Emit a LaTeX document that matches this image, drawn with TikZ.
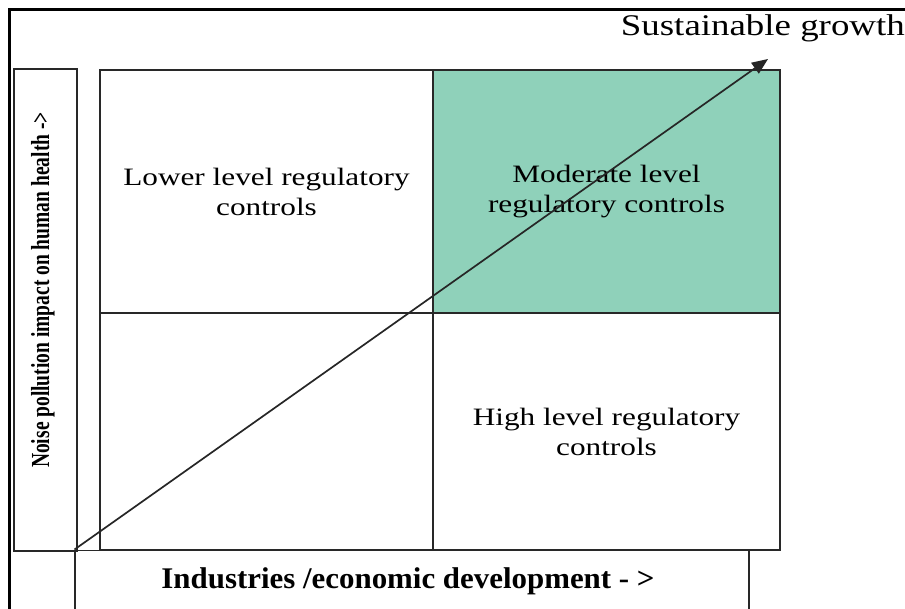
\documentclass[tikz,border=0pt]{standalone}
\usepackage{fontspec}
\setmainfont{Liberation Serif}
\newfontfamily\cellfont{Liberation Serif}[FakeStretch=1.25]
\newfontfamily\titlefont{Liberation Serif}[FakeStretch=1.23]
\newfontfamily\xaxisfont{Liberation Serif}[FakeStretch=1.03]
\newfontfamily\yaxisfont{Liberation Serif}[FakeStretch=0.75]
\usetikzlibrary{arrows.meta}
\definecolor{mint}{RGB}{143,209,186}
\definecolor{lineclr}{RGB}{40,40,40}
\tikzset{
  cell/.style={draw=lineclr, line width=1.4pt, rectangle, inner sep=0pt, align=center,
    font=\cellfont\fontsize{25}{30}\selectfont},
  axisbox/.style={draw=lineclr, line width=1.4pt, rectangle, inner sep=0pt},
  growth/.style={draw=black!85, line width=1.7pt, -{Triangle[length=16pt,width=13pt]}}
}
\begin{document}
\begin{tikzpicture}[x=1pt,y=-1pt]
\useasboundingbox (0,0) rectangle (905,609);
\fill[white] (0,0) rectangle (905,609);
% outer frame (only top and left visible)
\draw[line width=3pt] (9.5,609) -- (9.5,9.5) -- (905,9.5);
% quadrants
\node[cell, minimum width=333pt, minimum height=243pt] (tl) at (266.5,191.5) {Lower level regulatory\\controls};
\node[cell, fill=mint, minimum width=347pt, minimum height=243pt] (tr) at (606.5,191.5) {Moderate level\\regulatory controls};
\node[cell, minimum width=333pt, minimum height=237pt] (bl) at (266.5,431.5) {};
\node[cell, minimum width=347pt, minimum height=237pt] (br) at (606.5,431.5) {High level regulatory\\controls};
% axis boxes
\node[axisbox, minimum width=63pt, minimum height=482pt] (ybox) at (45.5,310) {};
\node[axisbox, minimum width=674pt, minimum height=60pt] (xbox) at (412,580.5) {};
\node[rotate=90, anchor=base, inner sep=0pt, font=\yaxisfont\bfseries\fontsize{26}{30}\selectfont] (ylab) at (49,290) {Noise pollution impact on human health ->};
\node[anchor=base, inner sep=0pt, font=\xaxisfont\bfseries\fontsize{30}{34}\selectfont] (xlab) at (408,588) {Industries /economic development - >};
% growth arrow
\coordinate (origin) at (74.5,549.5);
\coordinate (tip) at (768,59);
\draw[growth] (origin) -- (tip);
\node[anchor=base east, inner sep=0pt, font=\titlefont\fontsize{30}{34}\selectfont] (title) at (905,36) {Sustainable growth};
\end{tikzpicture}
\end{document}
